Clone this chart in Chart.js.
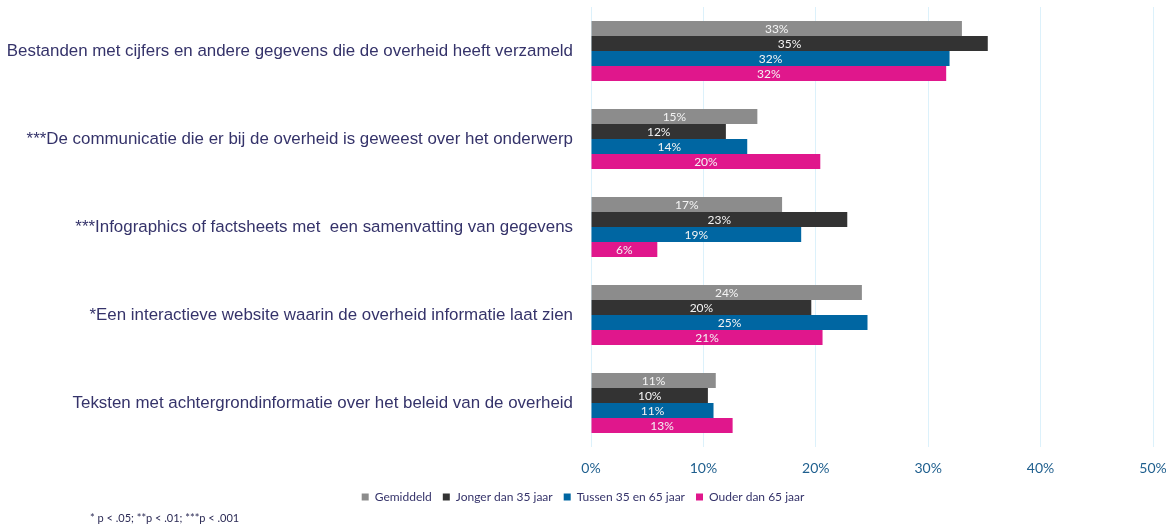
<!DOCTYPE html>
<html>
<head>
<meta charset="utf-8">
<script src="https://cdn.jsdelivr.net/npm/chart.js@4/dist/chart.umd.min.js"></script>
<style>
  html, body { margin: 0; padding: 0; background: #fff; }
  #wrap { position: relative; width: 1166px; height: 524px; }
  #note { position: absolute; left: 90px; top: 511px; font: 11px Lato, sans-serif; color: #2b2a55; }
</style>
</head>
<body>
<div id="wrap">
  <canvas id="chart" width="1166" height="524"></canvas>
  <div id="note">* p &lt; .05; **p &lt; .01; ***p &lt; .001</div>
</div>
<script>
// categories (top to bottom)
const categories = [
  'Bestanden met cijfers en andere gegevens die de overheid heeft verzameld',
  '***De communicatie die er bij de overheid is geweest over het onderwerp',
  '***Infographics of factsheets met  een samenvatting van gegevens',
  '*Een interactieve website waarin de overheid informatie laat zien',
  'Teksten met achtergrondinformatie over het beleid van de overheid',
];
const seriesNames = ['Gemiddeld', 'Jonger dan 35 jaar', 'Tussen 35 en 65 jaar', 'Ouder dan 65 jaar'];
// shares in %
const gemiddeld = [33.0, 14.8, 17.0, 24.1, 11.1];
const jonger35 = [35.3, 12.0, 22.8, 19.6, 10.4];
const tussen35en65 = [31.9, 13.9, 18.7, 24.6, 10.9];
const ouder65 = [31.6, 20.4, 5.9, 20.6, 12.6];
const xTicks = [0, 10, 20, 30, 40, 50];

const colors = ['#8c8c8c', '#333333', '#0066a2', '#e0178c'];
const seriesValues = [gemiddeld, jonger35, tussen35en65, ouder65];

// value labels centred inside each bar
const barLabels = {
  id: 'barLabels',
  afterDatasetsDraw(chart) {
    const { ctx } = chart;
    ctx.save();
    ctx.font = '12px Lato, sans-serif';
    ctx.fillStyle = '#f4f4f4';
    ctx.textAlign = 'center';
    ctx.textBaseline = 'middle';
    chart.data.datasets.forEach((ds, i) => {
      chart.getDatasetMeta(i).data.forEach((bar, j) => {
        ctx.fillText(Math.round(ds.data[j]) + '%', (bar.x + bar.base) / 2, bar.y + 1);
      });
    });
    ctx.restore();
  },
};

new Chart(document.getElementById('chart'), {
  type: 'bar',
  data: {
    labels: categories,
    datasets: seriesNames.map((name, i) => ({
      label: name,
      data: seriesValues[i],
      backgroundColor: colors[i],
      categoryPercentage: 0.68,
      barPercentage: 1.0,
    })),
  },
  options: {
    indexAxis: 'y',
    responsive: false,
    animation: false,
    layout: { padding: { top: 7, right: 0, bottom: 11, left: 0 } },
    scales: {
      x: {
        min: 0,
        max: 50,
        afterBuildTicks: (axis) => { axis.ticks = xTicks.map((v) => ({ value: v })); },
        // tick padding would otherwise be added to the right edge too
        afterFit: (axis) => { axis.height = 33; axis.paddingRight = 13; axis.paddingLeft = 0; },
        grid: { color: '#dcf1fb', drawTicks: false },
        border: { display: false },
        ticks: {
          padding: 13,
          color: '#1f5f8e',
          font: { family: 'Lato, sans-serif', size: 14 },
          callback: (v) => v + '%',
        },
      },
      y: {
        grid: { display: false, drawTicks: false },
        border: { display: false },
        afterFit: (axis) => { axis.width = 591; axis.paddingTop = 0; axis.paddingBottom = 0; },
        ticks: {
          padding: 18,
          color: '#35336a',
          font: { family: '"Liberation Sans", Arial, sans-serif', size: 16.9 },
        },
      },
    },
    plugins: {
      legend: {
        position: 'bottom',
        labels: {
          boxWidth: 7,
          boxHeight: 7,
          padding: 11,
          color: '#35336a',
          font: { family: 'Lato, sans-serif', size: 12 },
        },
      },
      tooltip: { enabled: false },
    },
  },
  plugins: [barLabels],
});
</script>
</body>
</html>
